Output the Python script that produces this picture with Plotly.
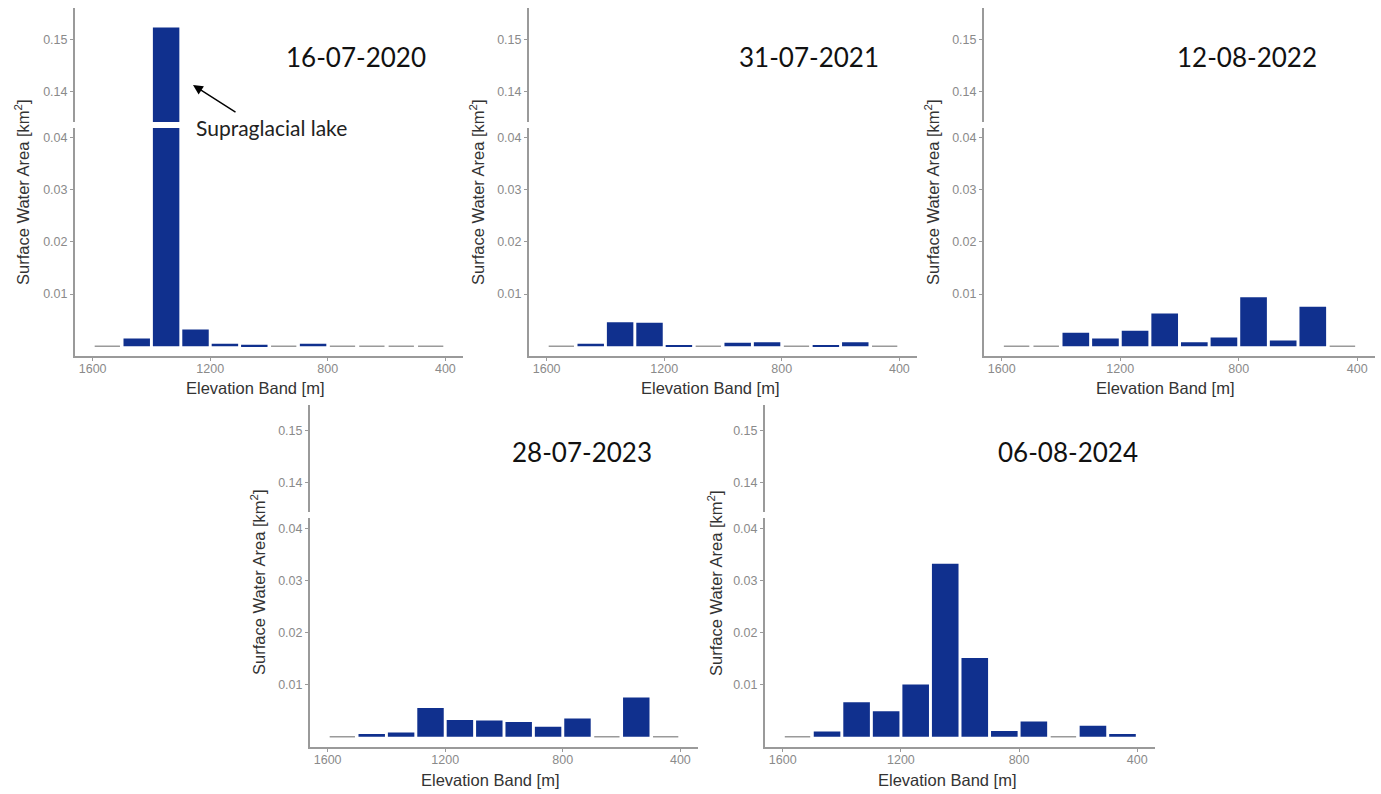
import plotly.graph_objects as go

# ---------------- data ----------------
band_centers = [1550, 1450, 1350, 1250, 1150, 1050, 950, 850, 750, 650, 550, 450]
dates = ["16-07-2020", "31-07-2021", "12-08-2022", "28-07-2023", "06-08-2024"]

area_2020 = [0, 0.0015, 0.1523, 0.0032, 0.0005, 0.0003, 0, 0.0005, 0, 0, 0, 0]
area_2021 = [0, 0.0005, 0.0046, 0.0045, 0.0002, 0, 0.0007, 0.0008, 0, 0.0002, 0.0008, 0]
area_2022 = [0, 0, 0.0026, 0.0015, 0.0030, 0.0063, 0.0008, 0.0017, 0.0094, 0.0011, 0.0076, 0]
area_2023 = [0, 0.0005, 0.0008, 0.0055, 0.0032, 0.0031, 0.0028, 0.0019, 0.0035, 0, 0.0075, 0]
area_2024 = [0, 0.0010, 0.0066, 0.0049, 0.0100, 0.0332, 0.0151, 0.0011, 0.0029, 0, 0.0021, 0.0005]
series = [area_2020, area_2021, area_2022, area_2023, area_2024]

x_ticks = [1600, 1200, 800, 400]
x_tick_text = ["1600", "1200", "800", "400"]
y_low_ticks = [0.01, 0.02, 0.03, 0.04]
y_low_text = ["0.01", "0.02", "0.03", "0.04"]
y_up_ticks = [0.14, 0.15]
y_up_text = ["0.14", "0.15"]

# ---------------- layout geometry (pixels) ----------------
W, H = 1381, 794
# left, right, top, upper-bottom, lower-top, bottom
panels_px = [
    (75, 463, 8, 122, 128, 355.7),
    (529, 917, 8, 122, 128, 355.7),
    (984, 1375, 8, 122, 128, 355.7),
    (310, 698, 405, 511.7, 518.3, 746.7),
    (765, 1155, 405, 511.7, 518.3, 746.7),
]
low_ranges = [[-0.0018, 0.04182]] * 3 + [[-0.00192, 0.04192]] * 2
up_ranges = [[0.1342, 0.15603]] * 3 + [[0.13436, 0.15484]] * 2

date_pos = [(356, 57), (809, 57), (1247, 57), (582, 452), (1068, 452)]
ytitle_pos = [(22, 192), (477, 192), (932, 192), (258, 582), (715, 583)]
xtitle_pos = [(255, 388), (710, 388), (1165, 388), (490, 780), (947, 780)]

BAR_COLOR = "#10308E"
AXIS_COLOR = "#9a9a9a"
TICK_FONT = dict(family="Liberation Sans, Arial, sans-serif", size=12.5, color="#8a8a8a")
TITLE_FONT = dict(family="Liberation Sans, Arial, sans-serif", size=16.5, color="#333333")


def fx(px):
    return px / W


def fy(py):
    return 1 - py / H


fig = go.Figure()
layout = dict(
    width=W, height=H, margin=dict(l=0, r=0, t=0, b=0),
    paper_bgcolor="white", plot_bgcolor="white", showlegend=False,
)
annotations = []


def akey(prefix, n):
    return prefix if n == 1 else f"{prefix}{n}"


for i, vals in enumerate(series):
    nl, nu = 2 * i + 1, 2 * i + 2
    xl_ref = "x" if nl == 1 else f"x{nl}"
    yl_ref = "y" if nl == 1 else f"y{nl}"
    xu_ref, yu_ref = f"x{nu}", f"y{nu}"
    left, right, top, ub, lt, bottom = panels_px[i]

    for xr, yr in ((xl_ref, yl_ref), (xu_ref, yu_ref)):
        fig.add_trace(go.Bar(
            x=band_centers, y=vals, width=90,
            marker=dict(color=BAR_COLOR, line=dict(width=0)),
            xaxis=xr, yaxis=yr, hoverinfo="x+y",
        ))

    # zero-valued bands drawn as thin grey baselines
    zx, zy = [], []
    for c, v in zip(band_centers, vals):
        if v == 0:
            zx += [c + 43, c - 43, None]
            zy += [v, v, None]
    if zx:
        fig.add_trace(go.Scatter(
            x=zx, y=zy, mode="lines", line=dict(color=AXIS_COLOR, width=1.5),
            xaxis=xl_ref, yaxis=yl_ref, hoverinfo="skip",
        ))

    xdom = [fx(left), fx(right)]
    layout[akey("xaxis", nl)] = dict(
        domain=xdom, anchor=yl_ref, range=[1660, 340],
        showgrid=False, zeroline=False, showline=True, linecolor=AXIS_COLOR, linewidth=2,
        ticks="outside", ticklen=3, tickcolor=AXIS_COLOR, tickwidth=1,
        tickvals=x_ticks, ticktext=x_tick_text, tickfont=TICK_FONT,
        ticklabelstandoff=-3,
    )
    layout[akey("yaxis", nl)] = dict(
        domain=[fy(bottom), fy(lt)], anchor=xl_ref, range=low_ranges[i],
        showgrid=False, zeroline=False, showline=True, linecolor=AXIS_COLOR, linewidth=2,
        ticks="outside", ticklen=3, tickcolor=AXIS_COLOR, tickwidth=1,
        tickvals=y_low_ticks, ticktext=y_low_text, tickfont=TICK_FONT,
    )
    layout[akey("xaxis", nu)] = dict(
        domain=xdom, anchor=yu_ref, range=[1660, 340], visible=False,
        showgrid=False, zeroline=False,
    )
    layout[akey("yaxis", nu)] = dict(
        domain=[fy(ub), fy(top)], anchor=xu_ref, range=up_ranges[i],
        showgrid=False, zeroline=False, showline=True, linecolor=AXIS_COLOR, linewidth=2,
        ticks="outside", ticklen=3, tickcolor=AXIS_COLOR, tickwidth=1,
        tickvals=y_up_ticks, ticktext=y_up_text, tickfont=TICK_FONT,
    )

    dx, dy = date_pos[i]
    annotations.append(dict(
        x=fx(dx), y=fy(dy), xref="paper", yref="paper", text=dates[i], showarrow=False,
        xanchor="center", yanchor="middle",
        font=dict(family="Lato, Carlito, sans-serif", size=26, color="#111111"),
    ))
    tx, ty = ytitle_pos[i]
    annotations.append(dict(
        x=fx(tx), y=fy(ty), xref="paper", yref="paper",
        text="Surface Water Area [km<sup>2</sup>]", textangle=-90, showarrow=False,
        xanchor="center", yanchor="middle", font=TITLE_FONT,
    ))
    tx, ty = xtitle_pos[i]
    annotations.append(dict(
        x=fx(tx), y=fy(ty), xref="paper", yref="paper",
        text="Elevation Band [m]", showarrow=False,
        xanchor="center", yanchor="middle", font=TITLE_FONT,
    ))

# Supraglacial lake label + arrow
annotations.append(dict(
    x=fx(271), y=fy(128), xref="paper", yref="paper", text="Supraglacial lake",
    showarrow=False, xanchor="center", yanchor="middle",
    font=dict(family="Lato, Carlito, sans-serif", size=21, color="#222222"),
))
annotations.append(dict(
    x=fx(193), y=fy(85), xref="paper", yref="paper", text="",
    showarrow=True, ax=44, ay=28, arrowhead=2, arrowsize=1.4, arrowwidth=1.4,
    arrowcolor="#000000",
))

layout["annotations"] = annotations
fig.update_layout(**layout)
fig.write_html("out.html")
